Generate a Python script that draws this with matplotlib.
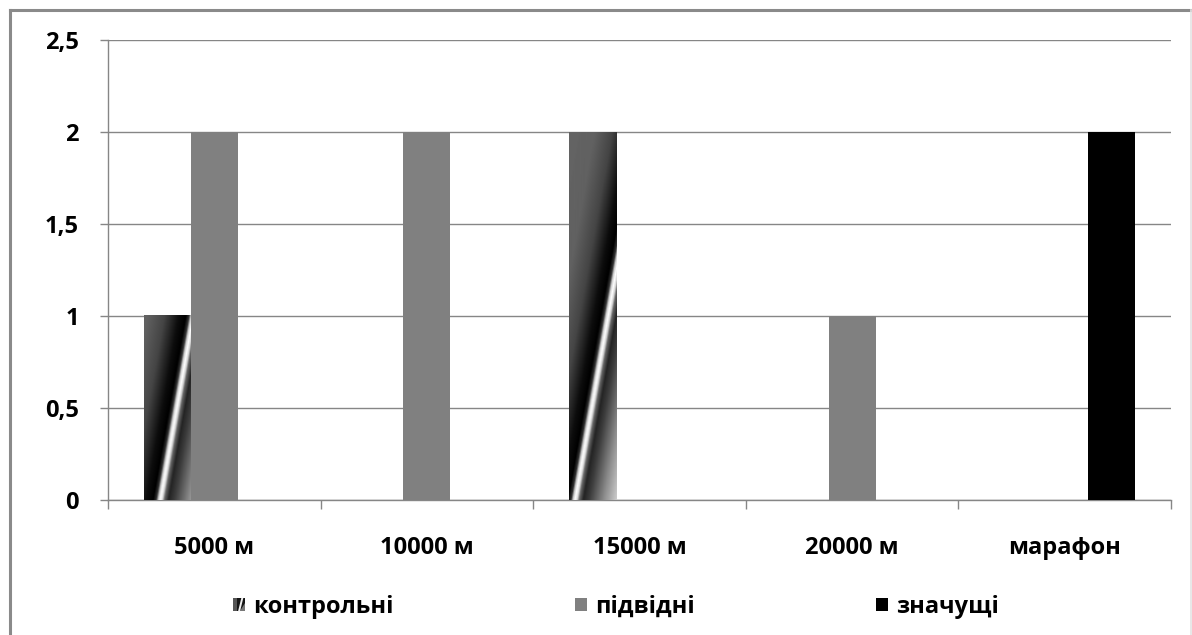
import numpy as np
import matplotlib.pyplot as plt
from matplotlib.patches import Rectangle, Polygon, Patch
from matplotlib.lines import Line2D
from matplotlib.legend_handler import HandlerBase

# --- data ---
categories = ['5000 м', '10000 м', '15000 м', '20000 м', 'марафон']
kontrolni = [1, 0, 2, 0, 0]
pidvidni = [2, 2, 0, 1, 0]
znachushchi = [0, 0, 0, 0, 2]
series_names = ['контрольні', 'підвідні', 'значущі']
y_ticks = [0, 0.5, 1, 1.5, 2, 2.5]
y_labels = ['0', '0,5', '1', '1,5', '2', '2,5']

W, H = 1192, 635
GRID = '#868686'
FS = 17

plt.rcParams['font.family'] = ['Open Sans', 'DejaVu Sans']
plt.rcParams['font.weight'] = 'bold'

fig = plt.figure(figsize=(W / 100, H / 100), dpi=100)
ax = fig.add_axes([108 / W, 1 - 500 / H, (1171 - 108) / W, 460 / H])

x = np.arange(len(categories))
bw = 0.2213


def set_limits():
    ax.set_xlim(-0.5, len(categories) - 0.5)
    ax.set_ylim(0, 2.5)


set_limits()


def shade(d):
    # brightness across the bar, d = horizontal pixel distance from the bright stripe
    pts = [-90, -45, -28, -14, -7, -4, -2, 0, 2, 4, 8, 14, 28, 45]
    vals = [0.40, 0.38, 0.27, 0.05, 0.0, 0.2, 0.8, 1.0, 0.85, 0.4, 0.14, 0.24, 0.55, 0.88]
    return np.interp(d, pts, vals)


def gradient_bar(xc, h, w):
    if h <= 0:
        return
    x0p, y0p = ax.transData.transform((xc - w / 2, 0))
    x1p, y1p = ax.transData.transform((xc + w / 2, h))
    wp, hp = int(round(x1p - x0p)), int(round(y1p - y0p))
    X, Y = np.meshgrid(np.arange(wp) + 0.5, (np.arange(hp) + 0.5)[::-1])
    start = 26 - 10 * h
    img = shade(X - (start + 0.175 * Y))
    ax.imshow(img, cmap='gray', vmin=0, vmax=1, aspect='auto',
              extent=(xc - w / 2, xc + w / 2, 0, h),
              interpolation='bilinear', zorder=3)


for xc, h in zip(x - bw, kontrolni):
    gradient_bar(xc, h, bw)
ax.bar(x, pidvidni, bw, color='#808080', zorder=3)
ax.bar(x + bw, znachushchi, bw, color='#000000', zorder=3)
set_limits()

# axes styling
ax.set_yticks(y_ticks)
ax.set_yticklabels(y_labels)
ax.yaxis.grid(True, color=GRID, lw=1.0)
ax.set_axisbelow(True)
for s in ['top', 'right']:
    ax.spines[s].set_visible(False)
for s in ['left', 'bottom']:
    ax.spines[s].set_color(GRID)
    ax.spines[s].set_linewidth(1.0)
ax.tick_params(axis='y', length=6, color=GRID, width=1.0, pad=15, labelsize=FS)
ax.set_xticks(x)
ax.set_xticklabels(categories)
ax.set_xticks(np.arange(len(categories) + 1) - 0.5, minor=True)
ax.tick_params(axis='x', which='major', length=0, pad=26, labelsize=FS)
ax.tick_params(axis='x', which='minor', length=6.5, color=GRID, width=1.0)


class StreakHandler(HandlerBase):
    def create_artists(self, legend, orig_handle, xd, yd, width, height, fontsize, trans):
        x0, y0 = -xd, -yd
        base = Rectangle((x0, y0), width, height, facecolor='#151515',
                         edgecolor='none', transform=trans)
        left = Rectangle((x0, y0), width * 0.35, height, facecolor='#555555',
                         edgecolor='none', transform=trans)
        right = Polygon([[x0 + 0.62 * width, y0], [x0 + width, y0],
                         [x0 + width, y0 + 0.6 * height]],
                        facecolor='#777777', edgecolor='none', transform=trans)
        stripe = Polygon([[x0 + 0.45 * width, y0], [x0 + 0.62 * width, y0],
                          [x0 + 0.9 * width, y0 + height], [x0 + 0.73 * width, y0 + height]],
                         facecolor='#f0f0f0', edgecolor='none', transform=trans)
        return [base, left, right, stripe]


handles = [Patch(label=series_names[0]),
           Patch(facecolor='#808080', label=series_names[1]),
           Patch(facecolor='#000000', label=series_names[2])]
fig.legend(handles=handles, loc='center', bbox_to_anchor=(616 / W, 1 - 607 / H),
           ncol=3, frameon=False, fontsize=FS, handlelength=0.5, handleheight=0.5,
           handletextpad=0.35, columnspacing=7.7, borderpad=0,
           handler_map={handles[0]: StreakHandler()})

# outer frame
fig.add_artist(Line2D([9.5 / W, 9.5 / W], [0, 1 - 9.5 / H], transform=fig.transFigure,
                      color='#8a8a8a', lw=2.2))
fig.add_artist(Line2D([9.5 / W, 1190.5 / W], [1 - 9.5 / H, 1 - 9.5 / H],
                      transform=fig.transFigure, color='#8a8a8a', lw=2.2))
fig.add_artist(Line2D([1190.5 / W, 1190.5 / W], [0, 1 - 9.5 / H], transform=fig.transFigure,
                      color='#e4e4e4', lw=1.2))

fig.savefig('out.png', dpi=100)
